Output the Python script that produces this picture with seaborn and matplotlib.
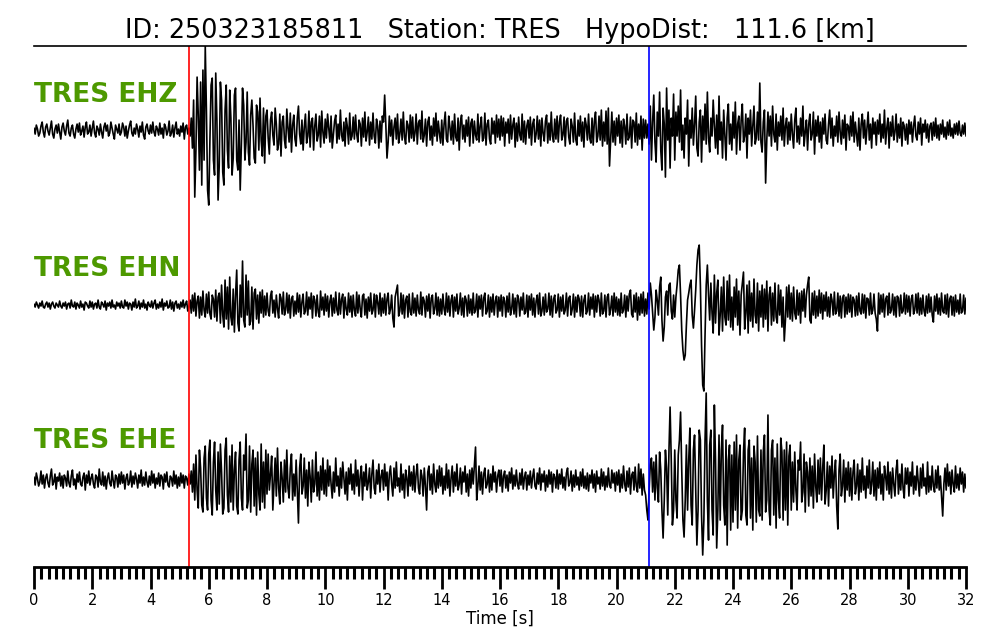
import numpy as np
import pandas as pd
import matplotlib
matplotlib.use("Agg")
import matplotlib.pyplot as plt
import seaborn as sns
from matplotlib.ticker import MultipleLocator

# 1. DATA (deflection of each trace, one sample every DT s,
#    one row per second)
DT = 0.04

ehz = [
    2, -4, 5, 1, -6, -3, 4, 8, -2, -7, 3, 6, -1, -5, 2, 9, -4, -8, 1, 5, -3, 6, -2, -9, 3,
    7, -1, -5, 4, 10, -3, -6, 2, 5, -4, -8, 1, 6, -2, 7, -5, -1, 4, -7, 3, 8, -4, -2, 5, -6,
    2, 9, -3, -7, 4, 1, -5, 6, -2, -8, 3, 7, -1, 5, -6, -3, 8, 2, -4, -9, 5, 1, -3, 6, -5,
    -2, 7, 3, -6, 4, -8, -1, 5, 9, -3, -6, 2, -4, 6, 1, -7, 4, -2, 8, -5, -9, 3, 6, -1, -4,
    5, -3, 8, -2, -6, 4, 1, -5, 7, -4, 2, -8, 6, 3, -5, -1, 9, -6, -3, 5, -7, 2, 8, -4, 1,
    -6, 4, -2, 7, -9, 3, 5, -4, 2, -6, 12, -18, 30, -67, -20, 53, 15, -40, 48, -55, 60, -30, 84, 20, -60,
    -75, -10, 45, 52, -30, -45, 57, 10, -70, -35, 48, 30, -42, -55, 20, 45, -20, -38, 40, 12, -45, -28, 35, 42, -30,
    -40, 10, -60, -15, 42, 25, -30, -12, 38, -22, -35, 15, 30, 5, -28, -33, 25, 18, -20, 32, -10, -26, 22, -33, 14,
    20, -8, -24, 10, 18, -5, -15, 22, 6, -20, -14, 16, -26, 8, 14, -10, -18, 21, 2, -12, 17, -22, 5, 15, -9,
    -16, 12, 24, -4, -14, 10, -20, 3, 16, -13, -6, 19, -17, 8, 12, -20, 4, 16, -11, -5, 14, -17, 19, -2, -13,
    11, -8, 16, 2, -12, 14, -18, -4, 9, 15, -13, 6, -9, 20, -5, -11, 8, -16, 12, 3, -14, 17, -10, -6, 13,
    -9, 15, -4, -12, 10, 6, -16, 12, -7, 18, -11, -2, 13, -15, 8, -9, 17, -6, -13, 11, 4, -18, 9, -12, 14,
    8, 35, 5, -28, -12, 14, -6, 10, -15, 3, 12, -9, 16, -13, -4, 11, -10, 18, -7, -14, 9, 5, -12, 15, -8,
    13, -11, -3, 16, -14, 7, 10, -9, 19, -12, -5, 11, -16, 8, 13, -10, 4, -15, 12, -6, 17, -11, 9, -3, -13,
    10, -15, 6, 18, -9, -12, 14, 3, -10, 9, -14, 16, -7, -11, 12, -20, 8, 15, -9, 5, -12, 10, -6, 13, -16,
    7, 11, -13, 9, -5, -10, 16, -12, 4, 13, -11, -8, 17, -15, 6, 10, -9, -14, 12, -4, 9, -13, 15, -7, 11,
    -10, 14, -6, 12, -16, 8, -3, 11, -13, 15, -9, 5, 12, -17, 7, -11, 13, -5, -10, 16, -12, 9, -14, 4, 10,
    -8, 13, -15, 6, 11, -12, -4, 14, -9, 10, -16, 12, -3, -11, 9, 15, -13, 7, -10, 18, -6, -12, 11, -9, 14,
    -12, 8, 15, -10, -5, 13, -16, 9, 12, -7, -14, 11, 4, -12, 17, -9, -15, 10, -6, 14, -11, 8, -17, 12, 5,
    -10, 16, -8, -13, 12, -15, 9, 18, -12, -6, 14, -10, 20, -16, 8, -11, 19, -14, 22, -36, -10, 18, -12, 9, -15,
    12, -6, 15, -13, 9, -17, 11, 4, -14, 16, -10, -7, 13, -18, 10, 8, -12, 17, -15, 6, -9, 14, -20, 11, -8,
    10, -8, 6, -14, 24, -30, 8, 35, -12, -32, 18, -6, 38, -20, -40, 22, 6, -47, 42, -10, 20, -38, 12, -6, 36,
    -30, 18, -6, 24, -12, 40, -20, 5, -28, 12, -4, 30, -36, 10, -8, 22, -15, 6, 34, -18, -26, 8, 20, -32, 14,
    -10, 26, -14, 38, -8, -22, 12, -6, 30, 4, -18, 15, -24, 34, -10, 8, -28, 20, -6, -30, 12, 26, -14, 6, -20,
    18, -8, 28, -24, 6, 14, -20, 10, 26, -12, -6, 16, -28, 12, -4, 20, -16, 4, 24, -14, -8, 18, -10, 47, -12,
    -22, 8, 20, -53, -10, 18, -6, 14, -16, 24, -4, -12, 16, -20, 8, -6, 14, -10, 22, -16, 4, 12, -14, 8, -10,
    16, -4, -18, 10, 22, -12, 4, -14, 12, -6, 24, -16, -2, 10, -20, 6, 16, -10, -4, 18, -24, 10, -6, 14, -12,
    8, -18, 12, -4, 16, -10, -14, 6, 20, -8, 12, -16, 4, -6, 14, -12, 18, -2, -14, 10, -8, 15, -20, 6, 4,
    -10, 14, -6, 18, -12, 8, -4, -16, 12, -20, 6, 16, -8, 10, -14, 2, 18, -10, 6, -18, 12, -4, 8, -15, 10,
    -4, 16, -12, 6, -8, 20, -14, 2, 12, -18, 8, -6, 14, -10, -2, 16, -12, 6, -8, 12, -16, 8, 4, -10, 6,
    -14, 10, -4, 8, -12, 4, 14, -6, -10, 8, -4, 12, -15, 6, -2, 10, -8, 6, -12, 4, 7, -10, 8, -6, 12,
    -8, 5, -10, 6, -4, 10, -7, 3, -9, 8, -5, 10, -6, 2, -8, 6, -4, 7, -5, 9, -3, -6, 5, -4, 7,
    -6,
]

ehn = [
    1, -2, 3, 0, -3, 2, -1, 4, -2, -3, 1, 3, -2, 2, -4, 1, 3, -1, -3, 2, 0, -2, 4, -1, -3,
    2, -1, 3, -4, 1, 2, -3, 5, -1, -2, 3, -4, 2, 0, -3, 4, -2, 1, -5, 3, 2, -1, -3, 4, -2,
    3, -4, 1, 2, -3, 5, -2, -4, 3, 1, -2, 4, -5, 2, -1, 3, -3, 5, -2, 0, -4, 3, -1, 2, -3,
    4, -2, -3, 5, -1, 3, -4, 2, 1, -5, 3, -2, 6, -3, -1, 4, -4, 2, -2, 5, -3, 1, -5, 3, 0,
    -2, 4, -3, 2, 5, -4, 1, -3, 3, -2, 6, -5, 2, -1, 4, -3, -2, 5, -4, 3, -6, 2, 4, -3, 1,
    -4, 3, -2, 5, -3, 1, 4, -6, -2, 5, -8, 10, -6, 12, -11, 4, 9, -13, 8, -10, 14, -5, -12, 11, -8,
    13, -9, -14, 10, 6, -12, 15, -16, 8, 12, -18, 20, -10, -22, 25, -14, 18, -24, 28, -12, -20, 16, -27, 10, 35,
    -18, -26, 20, -12, 44, -15, -22, 30, -10, 24, -20, -16, 18, -24, 12, 16, -14, 10, -18, 13, -8, 15, -12, 9, -10,
    12, -6, -11, 9, 14, -8, 5, -12, 10, -4, -13, 11, 7, -9, 13, -10, -5, 12, -8, 10, -13, 6, 9, -11, 4,
    -9, 12, -7, 10, -12, 3, 11, -9, -6, 13, -10, 8, -4, 12, -13, 9, 5, -11, 10, -7, -12, 14, -5, 8, -10,
    11, -6, 9, -12, 4, 10, -11, 7, -8, 13, -5, -10, 12, -9, 6, 11, -13, 8, -4, -10, 12, -7, 9, -12, 10,
    -5, -11, 13, -8, 10, -4, -12, 9, 11, -10, 6, -13, 8, -6, 12, -9, -5, 11, -12, 10, 3, -9, 12, -11, 7,
    -8, 11, -10, 6, 12, -9, -4, 10, -13, -22, 8, 14, 20, -11, -6, 12, -9, 10, -13, 5, 9, -12, 11, -7, -10,
    12, -8, 7, -11, 10, -5, -9, 13, -10, 8, 4, -12, 9, -6, 11, -13, 7, 10, -9, -4, 12, -10, 8, -11, 6,
    -9, 11, -4, -10, 12, -7, 9, -11, 5, 10, -12, 8, -6, 11, -9, -3, 12, -10, 7, -12, 9, 5, -11, 10, -8,
    6, -10, 12, -8, -5, 11, -12, 9, -4, 10, -11, 7, 12, -9, -6, 10, -12, 8, -7, 11, -10, 4, 9, -12, 8,
    -6, 10, -11, 8, 4, -12, 9, -7, 12, -10, -4, 11, -9, 7, -12, 10, 6, -11, 8, -5, 12, -9, -7, 10, -12,
    9, -5, 11, -10, 7, -12, 4, 10, -9, 12, -11, -6, 8, -10, 11, -7, -4, 12, -10, 9, -12, 6, 10, -8, -5,
    11, -12, 8, -6, 10, -9, -5, 12, -11, 7, 9, -10, -4, 11, -12, 8, -7, 10, 6, -11, 9, -12, 5, 10, -9,
    -6, 12, -10, 8, -4, 11, -12, 9, -7, 10, 5, -11, 12, -9, -6, 10, -12, 8, 11, -10, -4, 9, -11, 12, -7,
    8, -10, 6, -11, 12, -8, -5, 10, -12, 9, -6, 11, 15, -9, -12, 10, -7, 12, -15, 8, -10, 11, -8, 13, -11,
    6, -9, 12, -4, 22, 10, -8, -25, -12, 15, 5, -10, 18, 28, -15, -36, -22, 8, 14, -10, 20, 22, -6, -14, 10,
    -12, 8, 20, 35, 40, 10, -25, -45, -55, -50, -20, 5, 12, 20, 25, -10, -23, -5, 15, 40, 55, 60, 20, -40, -80,
    -86, -30, 20, 40, 10, -15, 22, -8, -28, 30, -18, 12, 25, -30, -10, 18, -26, 28, -12, -20, 24, -15, 30, -22, 8,
    -25, 18, -12, 26, -20, 14, -30, 10, 22, 33, -24, -8, 20, -28, 24, -16, 12, -22, 26, -10, -18, 22, -26, 14, -12,
    20, -22, 16, -14, 24, -26, 10, 18, -20, 12, -16, 22, -12, -18, 20, -10, 15, -22, 8, -36, -15, 18, -12, 20, -14,
    12, -16, 18, -8, -14, 15, -10, 12, -18, 14, -6, 16, -12, 10, 20, 28, -15, -18, 12, -10, 14, -13, 9, -11, 15,
    -8, 12, -14, 10, -6, 13, -11, 8, -12, 11, 5, -10, 13, -9, -6, 12, -11, 9, -13, 7, 10, -12, 8, -9, 11,
    -7, 10, -12, 8, 5, -11, 9, -10, 12, -6, -9, 11, -8, 10, -13, 7, 6, -10, 12, -9, -5, 11, -8, -14, -26,
    12, -9, 10, -7, 11, -12, 6, 9, -10, 12, -8, -5, 11, -10, 8, -12, 9, 7, -11, 10, -8, -6, 12, -9, 10,
    -7, 9, -11, 6, 10, -9, -5, 11, -8, 12, -10, 7, -9, 10, -6, -11, 9, -8, 11, -7, 8, -10, -17, 9, -6,
    11, -9, 7, -10, 12, -6, -8, 10, -9, 11, -12, 6, 9, -10, 8, -11, 10, -7, 5, -9, 11, -8, -6, 10, -9,
    7,
]

ehe = [
    3, -5, 7, 1, -6, -2, 9, -4, 5, -8, 2, 6, -3, -7, 4, 11, -5, -2, 6, -9, 3, -1, 7, -6, 4,
    -8, 5, 2, -6, 9, -3, -7, 4, 10, -5, 1, -9, 6, -2, 8, -4, -6, 3, 7, -10, 5, -3, 9, -5, 2,
    6, -4, -8, 5, 3, -7, 11, -2, -5, 8, -6, 4, -9, 2, 7, -3, -6, 9, -1, -8, 5, 3, -7, 6, -4,
    8, -3, 5, -9, 2, 6, -5, -2, 9, -7, 4, -4, 7, 1, -8, 5, -3, 10, -6, 3, -5, 8, -2, -7, 4,
    -5, 9, -3, 6, -8, 2, -4, 7, -6, 5, 3, -9, 6, -2, 8, -5, -7, 4, 2, -6, 9, -4, 5, -8, 3,
    -6, 7, -3, 5, -8, 4, 2, -5, 6, -4, 9, -12, 16, -20, 25, -10, -28, 30, 12, -25, -32, 22, 34, -18, -30,
    26, 40, -20, -35, 18, 38, -10, -30, 28, -24, 36, 8, -34, -28, 30, 42, -15, -32, 24, -22, 35, -30, 10, 28, -26,
    -34, 20, 38, -18, -30, 25, 10, 46, -28, -20, 34, -32, 16, 30, -26, 22, -35, 28, -14, -30, 36, -22, 18, -28, 30,
    -14, 26, -10, 6, 24, -30, -4, 22, -16, 32, -8, -24, 18, 2, -22, 20, -12, 30, -8, -18, 12, 26, -20, 6, -16,
    20, -10, -43, 12, 26, -14, -6, 22, -18, 10, -26, 18, 4, -22, 20, -12, -4, 28, -16, 8, -20, 14, -10, 22, -14,
    10, -16, 20, -6, 14, -4, -18, 8, -12, 22, -6, 4, -16, 12, -8, 18, 2, -14, 8, -20, 12, -4, 16, -10, 6,
    -14, 20, -6, 10, -16, 4, 14, -20, 8, -6, 16, -10, -2, 12, -18, 6, 20, -8, -14, 10, -4, 16, -12, 4, 10,
    -10, 16, -6, 8, -20, 6, 14, -4, -16, 12, -8, 18, -6, 2, -12, 16, -10, 6, -18, 10, 2, -16, 14, -6, 8,
    -10, 14, -12, 6, 16, -8, -14, 10, 4, -16, 12, -6, -30, 8, 14, -10, 6, -14, 16, -4, -12, 10, -8, 14, -6,
    12, -14, 4, -10, 16, -8, 10, -16, 2, 14, -12, 8, -6, 16, -10, -4, 12, -14, 8, -2, 14, -12, 6, -16, 10,
    -8, 12, -4, 14, 33, -20, -6, 14, -10, 8, -14, 6, 12, -8, -4, 10, -12, 6, -10, 14, -2, 8, -12, 4, 10,
    -6, 10, -12, 4, 9, -8, 5, -11, 8, -3, 12, -9, 5, -6, 10, -4, -9, 7, -5, 11, -9, 3, 8, -10, 5,
    -5, 9, -8, 3, 11, -6, -9, 7, -4, 12, -10, 6, -2, 9, -11, 5, -7, 10, -4, 8, -12, 6, 3, -8, 10,
    -9, 6, -4, 11, -8, 3, -10, 7, 12, -6, -3, 9, -11, 5, -7, 10, -5, 3, -10, 8, -6, 11, -8, 4, -9,
    7, -11, 5, -3, 10, -8, 6, -12, 9, -4, 3, -9, 11, -6, 8, -10, 4, -7, 12, -5, -8, 10, -3, 7, -11,
    8, -5, 10, -12, 6, -8, 14, -4, -11, 9, -7, 12, -14, 5, 8, -10, 13, -6, -12, 16, -8, 11, -15, 6, -10,
    -15, -30, -40, -10, 15, 22, -12, 18, -20, 25, -8, -22, 28, 10, -30, -58, -20, 30, 12, -35, 28, 73, 20, -45, -30,
    30, -20, -38, 25, 40, 68, 10, -40, -57, -20, 35, -30, 20, 52, -25, -45, 30, 45, -10, -65, -30, 50, 40, -35, -75,
    -40, 40, 87, -20, -60, 35, 50, -30, -55, 75, 20, -68, -30, 45, -40, 30, 55, -25, -45, 40, -65, 20, 35, -50, 25,
    -42, 38, -30, 45, -48, 20, 35, -40, -30, 28, 52, -35, -45, 30, 40, -38, 22, -50, 34, 18, -42, 44, -30, -36, 30,
    -40, 28, 45, -32, -20, 65, -30, -45, 30, 40, -35, 22, -48, 36, -20, -38, 42, 28, -40, 30, -30, 38, -45, 24, 35,
    -30, 18, -22, 28, -10, -30, 20, 10, 38, -22, -12, 26, -32, 18, 8, -26, 22, -16, 14, -28, 26, -6, -22, 20, -14,
    22, -20, 12, 35, -24, -10, 18, -26, 14, -8, 24, -18, 6, 20, -26, -49, 10, 26, -16, -6, 20, -22, 12, -10, 18,
    -16, 12, -20, 8, 20, -14, -6, 16, -20, 10, -12, 22, -10, 4, -18, 14, -8, 20, -14, -4, 18, -16, 10, -20, 12,
    -8, 18, -14, 6, -20, 14, 4, -10, 18, -14, 8, -18, 12, -4, -16, 10, 20, -14, 6, -10, 16, -8, -18, 12, -4,
    12, -16, 8, -6, 18, -14, 4, -10, 14, -2, -16, 12, -8, 16, -6, 2, -14, 18, -12, 4, -10, 14, -6, -12, 10,
    -8, 14, -10, 4, -16, -36, -4, 12, -10, 16, -6, 8, -14, 10, -4, -12, 14, -8, 6, -10, 12, -4, 8, -12, 6,
    -8,
]

channels = ["TRES EHZ", "TRES EHN", "TRES EHE"]
traces = [ehz, ehn, ehe]
p_pick = 5.32
s_pick = 21.12
title = "ID: 250323185811   Station: TRES   HypoDist:   111.6 [km]"

for tr in traces:
    assert len(tr) == 801, len(tr)

# 2. LAYOUT
baselines = [437, 262, 87]
label_y = [465, 291, 119]
green = "#4d9900"

sns.set_theme(style="white")
plt.rcParams["font.family"] = ["DejaVu Sans"]
plt.rcParams["text.color"] = "black"
plt.rcParams["axes.labelcolor"] = "black"
plt.rcParams["xtick.color"] = "black"

fig = plt.figure(figsize=(10, 6.4), dpi=100)
ax = fig.add_axes([0.034, 0.114, 0.932, 0.814])

# 3. TRACES
for name, tr, base, ly in zip(channels, traces, baselines, label_y):
    df = pd.DataFrame({"time": np.arange(len(tr)) * DT, "amp": np.array(tr) + base})
    sns.lineplot(data=df, x="time", y="amp", color="black", lw=1.2,
                 estimator=None, sort=False, ax=ax)
    ax.text(0, ly, name, color=green, fontsize=19, fontweight="bold",
            ha="left", va="baseline")

ax.axvline(p_pick, color="red", lw=1.2)
ax.axvline(s_pick, color="blue", lw=1.2)

# 4. AXES STYLE
ax.set_xlim(0, 32)
ax.set_ylim(0, 521)
ax.set_yticks([])
ax.set_ylabel("")
for side in ["left", "right"]:
    ax.spines[side].set_visible(False)
ax.spines["top"].set_color("black")
ax.spines["top"].set_linewidth(1.2)
ax.spines["bottom"].set_color("black")
ax.spines["bottom"].set_linewidth(2)

ax.xaxis.set_major_locator(MultipleLocator(2))
ax.xaxis.set_minor_locator(MultipleLocator(0.25))
ax.tick_params(axis="x", which="major", bottom=True, direction="out", length=16,
               width=2, color="black", labelcolor="black", labelsize=10.5, pad=3)
ax.tick_params(axis="x", which="minor", bottom=True, direction="out", length=8.5,
               width=2.2, color="black")
ax.set_xlabel("Time [s]", fontsize=12, labelpad=1)
ax.set_title(title, fontsize=18.4, pad=6, color="black")

fig.savefig("out.png", dpi=100)
